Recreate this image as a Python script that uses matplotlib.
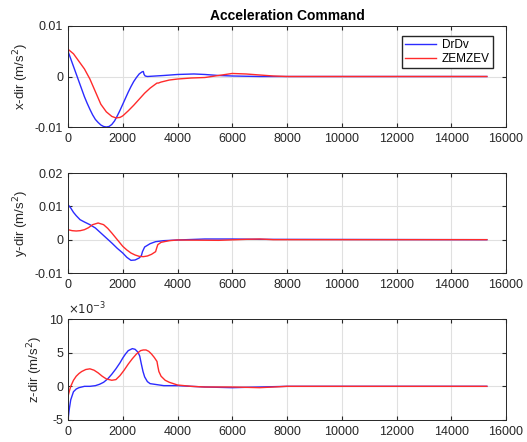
import matplotlib
matplotlib.use("Agg")
import matplotlib.pyplot as plt

plt.rcParams['font.family'] = ['Liberation Sans', 'DejaVu Sans']

# x-dir
bx_t = [0, 100, 200, 300, 400, 500, 600, 700, 800, 900, 1000, 1100, 1200, 1300, 1400, 1500, 1600, 1700, 1800, 1900, 2000, 2100, 2200, 2300, 2400, 2500, 2600, 2700, 2750, 2780, 2820, 2900, 3200, 3500, 4000, 4600, 5000, 5500, 6000, 6500, 7000, 8000, 15300]
bx_v = [0.005, 0.0035, 0.002, 0.0005, -0.001, -0.0025, -0.004, -0.0053, -0.0065, -0.0076, -0.0085, -0.0091, -0.0096, -0.0099, -0.0100, -0.0099, -0.0095, -0.0088, -0.0078, -0.0067, -0.0055, -0.0043, -0.0031, -0.002, -0.001, -0.0002, 0.0005, 0.0009, 0.001, 0.0004, 0.0001, 0.0, 0.0001, 0.0002, 0.0004, 0.0005, 0.0004, 0.0002, 0.0001, 0.00005, 0.0, 0.0, 0.0]
rx_t = [0, 200, 400, 600, 800, 1000, 1200, 1400, 1600, 1750, 1900, 2000, 2200, 2400, 2600, 2800, 3000, 3200, 3250, 3300, 3400, 3700, 4000, 4500, 5000, 5500, 6000, 6500, 7000, 7500, 8000, 15300]
rx_v = [0.0054, 0.0045, 0.003, 0.0015, -0.0005, -0.003, -0.0055, -0.0070, -0.0079, -0.0082, -0.0081, -0.0078, -0.0068, -0.0057, -0.0045, -0.0033, -0.0023, -0.0015, -0.0013, -0.0013, -0.0011, -0.0007, -0.0005, -0.0003, -0.0002, 0.0002, 0.0006, 0.0005, 0.0003, 0.0001, 0.0, 0.0]

# y-dir
by_t = [0, 100, 200, 300, 440, 600, 800, 1000, 1200, 1400, 1600, 1800, 2000, 2150, 2300, 2450, 2600, 2680, 2720, 2800, 3000, 3200, 3500, 4000, 5000, 6000, 7000, 15300]
by_v = [0.0105, 0.0095, 0.0082, 0.0072, 0.006, 0.0053, 0.0045, 0.0035, 0.002, 0.0005, -0.001, -0.0026, -0.004, -0.0053, -0.0062, -0.0061, -0.0055, -0.0048, -0.0036, -0.0022, -0.0012, -0.0006, -0.0003, -0.0001, 0.0002, 0.0002, 0.0001, 0.0]
ry_t = [0, 150, 300, 450, 600, 750, 900, 1100, 1300, 1450, 1600, 1800, 2000, 2150, 2300, 2450, 2600, 2750, 2900, 3050, 3200, 3240, 3280, 3400, 3700, 4000, 5500, 6500, 7000, 7500, 15300]
ry_v = [0.003, 0.0027, 0.0026, 0.0027, 0.003, 0.0036, 0.0045, 0.005, 0.0045, 0.0034, 0.002, 0.0, -0.002, -0.0031, -0.004, -0.0046, -0.005, -0.0051, -0.0049, -0.0044, -0.0036, -0.0025, -0.0015, -0.0008, -0.0003, -0.0001, -0.0002, 0.0001, 0.0002, 0.0, 0.0]

# z-dir
bz_t = [0, 50, 100, 200, 300, 400, 600, 800, 1000, 1150, 1300, 1450, 1600, 1750, 1900, 2000, 2100, 2200, 2350, 2450, 2550, 2620, 2680, 2740, 2800, 2900, 3000, 3500, 4000, 5000, 6000, 7000, 8000, 15300]
bz_v = [-0.005, -0.0033, -0.002, -0.0008, -0.0004, -0.0002, 0.0, 0.0, 0.0001, 0.0003, 0.0006, 0.0011, 0.0018, 0.0026, 0.0035, 0.0042, 0.0048, 0.0053, 0.0056, 0.0055, 0.0051, 0.0045, 0.0033, 0.0022, 0.0014, 0.0007, 0.0004, 0.0001, 0.0001, -0.0001, -0.0002, -0.0001, 0.0, 0.0]
rz_t = [0, 50, 100, 200, 300, 400, 500, 650, 800, 950, 1100, 1250, 1400, 1600, 1750, 1900, 2050, 2200, 2350, 2500, 2650, 2750, 2850, 2950, 3050, 3150, 3250, 3280, 3320, 3400, 3550, 3700, 4000, 4500, 5000, 6000, 7000, 7500, 8000, 15300]
rz_v = [-0.0015, -0.0007, 0.0, 0.0009, 0.0015, 0.0019, 0.0022, 0.0025, 0.0026, 0.0024, 0.002, 0.0015, 0.0011, 0.0009, 0.001, 0.0016, 0.0024, 0.0033, 0.0041, 0.0048, 0.0053, 0.0054, 0.0054, 0.0052, 0.0048, 0.0043, 0.0037, 0.0030, 0.0022, 0.0015, 0.0009, 0.0006, 0.0002, 0.0, -0.0001, -0.0001, -0.0002, -0.0001, 0.0, 0.0]

series_names = ['DrDv', 'ZEMZEV']
ylabels = ['x-dir (m/s$^2$)', 'y-dir (m/s$^2$)', 'z-dir (m/s$^2$)']
xticks = [0, 2000, 4000, 6000, 8000, 10000, 12000, 14000, 16000]

fig = plt.figure(figsize=(5.27, 4.42), dpi=100)
L, W = 68/527, 438/527
positions = [(L, 1-127/442, W, 101/442), (L, 1-273/442, W, 100/442), (L, 1-420/442, W, 101/442)]
data = [((bx_t, bx_v), (rx_t, rx_v)), ((by_t, by_v), (ry_t, ry_v)), ((bz_t, bz_v), (rz_t, rz_v))]
ylims = [(-0.01, 0.01), (-0.01, 0.02), (-0.005, 0.01)]
yticks = [[-0.01, 0, 0.01], [-0.01, 0, 0.01, 0.02], [-0.005, 0, 0.005, 0.01]]
yticklabels = [['-0.01', '0', '0.01'], ['-0.01', '0', '0.01', '0.02'], ['-5', '0', '5', '10']]

axes = []
for i in range(3):
    ax = fig.add_axes(positions[i])
    (bt, bv), (rt, rv) = data[i]
    ax.plot(bt, bv, color='#2b2bff', lw=1.0, label=series_names[0])
    ax.plot(rt, rv, color='#ff2b2b', lw=1.0, label=series_names[1])
    ax.set_xlim(0, 16000)
    ax.set_ylim(*ylims[i])
    ax.set_xticks(xticks)
    ax.set_xticklabels([str(x) for x in xticks])
    ax.set_yticks(yticks[i])
    ax.set_yticklabels(yticklabels[i])
    ax.grid(True, color='#e0e0e0', lw=0.8)
    ax.set_axisbelow(True)
    ax.tick_params(direction='in', length=3, labelsize=9, colors='#262626', top=True, right=True)
    ax.tick_params(axis='x', pad=4)
    for s in ax.spines.values():
        s.set_color('#262626')
        s.set_linewidth(0.7)
    ax.set_ylabel(ylabels[i], fontsize=9.5, color='#262626', labelpad=3)
    axes.append(ax)

axes[0].set_title('Acceleration Command', fontsize=10, fontweight='bold', pad=4)
axes[0].legend(loc='upper right', fontsize=8.5, frameon=True, fancybox=False,
               edgecolor='#262626', framealpha=1, handlelength=2.6,
               bbox_to_anchor=(0.97, 0.90), borderaxespad=0.0,
               borderpad=0.25, labelspacing=0.15, handletextpad=0.5)
axes[2].text(0.0, 1.02, r'$\times10^{-3}$', transform=axes[2].transAxes, fontsize=8.5,
             color='#262626', ha='left', va='bottom')

fig.savefig('out.png', dpi=100)
